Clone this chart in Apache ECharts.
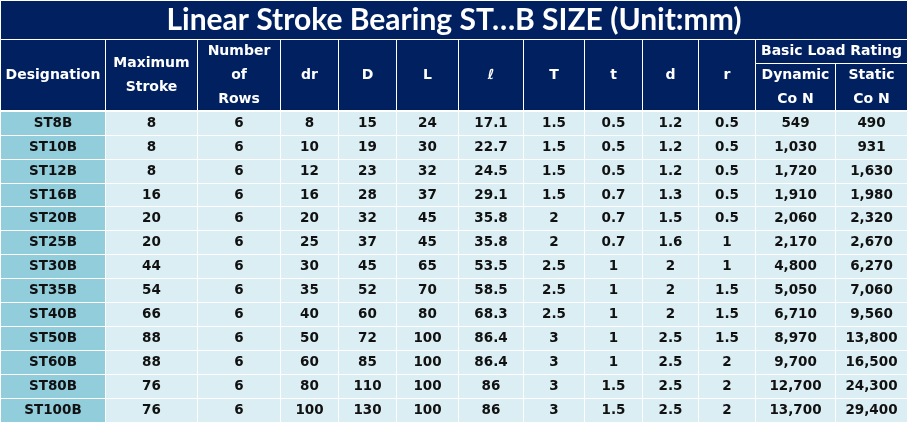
<!DOCTYPE html>
<html>
<head>
<meta charset="utf-8">
<script src="https://cdn.jsdelivr.net/npm/echarts@6/dist/echarts.min.js"></script>
<style>
html,body{margin:0;padding:0;background:#fff;}
#chart{width:909px;height:424px;}
</style>
</head>
<body>
<div id="chart"></div>
<script>
// ---------------- data ----------------
const tableTitle = 'Linear Stroke Bearing ST\u2026B SIZE (Unit:mm)';
const headerNames = ['Designation', 'Maximum\nStroke', 'Number\nof\nRows', 'dr', 'D', 'L', '\u2113', 'T', 't', 'd', 'r'];
const groupName = 'Basic Load Rating';
const groupChildren = ['Dynamic\nCo N', 'Static\nCo N'];

const designations = ['ST8B','ST10B','ST12B','ST16B','ST20B','ST25B','ST30B','ST35B','ST40B','ST50B','ST60B','ST80B','ST100B'];
const maxStroke = [8, 8, 8, 16, 20, 20, 44, 54, 66, 88, 88, 76, 76];
const numRows   = [6, 6, 6, 6, 6, 6, 6, 6, 6, 6, 6, 6, 6];
const drVals    = [8, 10, 12, 16, 20, 25, 30, 35, 40, 50, 60, 80, 100];
const DVals     = [15, 19, 23, 28, 32, 37, 45, 52, 60, 72, 85, 110, 130];
const LVals     = [24, 30, 32, 37, 45, 45, 65, 70, 80, 100, 100, 100, 100];
const ellVals   = [17.1, 22.7, 24.5, 29.1, 35.8, 35.8, 53.5, 58.5, 68.3, 86.4, 86.4, 86, 86];
const TVals     = [1.5, 1.5, 1.5, 1.5, 2, 2, 2.5, 2.5, 2.5, 3, 3, 3, 3];
const tVals     = [0.5, 0.5, 0.5, 0.7, 0.7, 0.7, 1, 1, 1, 1, 1, 1.5, 1.5];
const dVals     = [1.2, 1.2, 1.2, 1.3, 1.5, 1.6, 2, 2, 2, 2.5, 2.5, 2.5, 2.5];
const rVals     = [0.5, 0.5, 0.5, 0.5, 0.5, 1, 1, 1.5, 1.5, 1.5, 2, 2, 2];
const dynamicCo = [549, 1030, 1720, 1910, 2060, 2170, 4800, 5050, 6710, 8970, 9700, 12700, 13700];
const staticCo  = [490, 931, 1630, 1980, 2320, 2670, 6270, 7060, 9560, 13800, 16500, 24300, 29400];

// ---------------- layout / style ----------------
const NAVY = '#002060';
const DESIG_BG = '#92CDDC';
const CELL_BG = '#DAEEF3';
const colWidths = [105, 92, 83, 58, 58, 62, 65, 61, 58, 56, 57, 80, 72];

const fmt = v => typeof v === 'number' ? v.toLocaleString('en-US') : v;

const leaves = headerNames.map((n, i) => ({ value: n, size: colWidths[i] }));
leaves.push({
  value: groupName,
  children: groupChildren.map((n, i) => ({ value: n, size: colWidths[headerNames.length + i] }))
});

const xData = [{
  value: tableTitle,
  label: { fontFamily: 'Lato', fontSize: 30, fontWeight: 'bold', color: '#fff', overflow: 'none' },
  children: leaves
}];

const columns = [designations, maxStroke, numRows, drVals, DVals, LVals, ellVals, TVals, tVals, dVals, rVals, dynamicCo, staticCo];
const bodyData = [];
columns.forEach((col, ci) => {
  col.forEach((v, ri) => {
    const cell = { coord: [ci, ri], value: fmt(v) };
    if (ci === 0) cell.itemStyle = { color: DESIG_BG };
    bodyData.push(cell);
  });
});

const chart = echarts.init(document.getElementById('chart'));
chart.setOption({
  backgroundColor: '#fff',
  matrix: {
    left: 0,
    top: 0,
    width: 907,
    height: 422,
    backgroundStyle: { color: '#fff', borderWidth: 0 },
    x: {
      data: xData,
      levels: [{ levelSize: 39 }, { levelSize: 24 }, { levelSize: 48 }],
      itemStyle: { color: NAVY, borderColor: '#fff', borderWidth: 1 },
      label: {
        color: '#fff', fontFamily: 'DejaVu Sans', fontWeight: 'bold', fontSize: 14, lineHeight: 24,
        overflow: 'none', padding: 0
      },
      dividerLineStyle: { color: '#fff', width: 2 }
    },
    y: {
      show: false,
      data: designations
    },
    body: {
      data: bodyData,
      itemStyle: { color: CELL_BG, borderColor: '#fff', borderWidth: 1 },
      label: { color: '#111', fontFamily: 'DejaVu Sans', fontWeight: 'bold', fontSize: 13.5, overflow: 'none' }
    }
  }
});
</script>
</body>
</html>
